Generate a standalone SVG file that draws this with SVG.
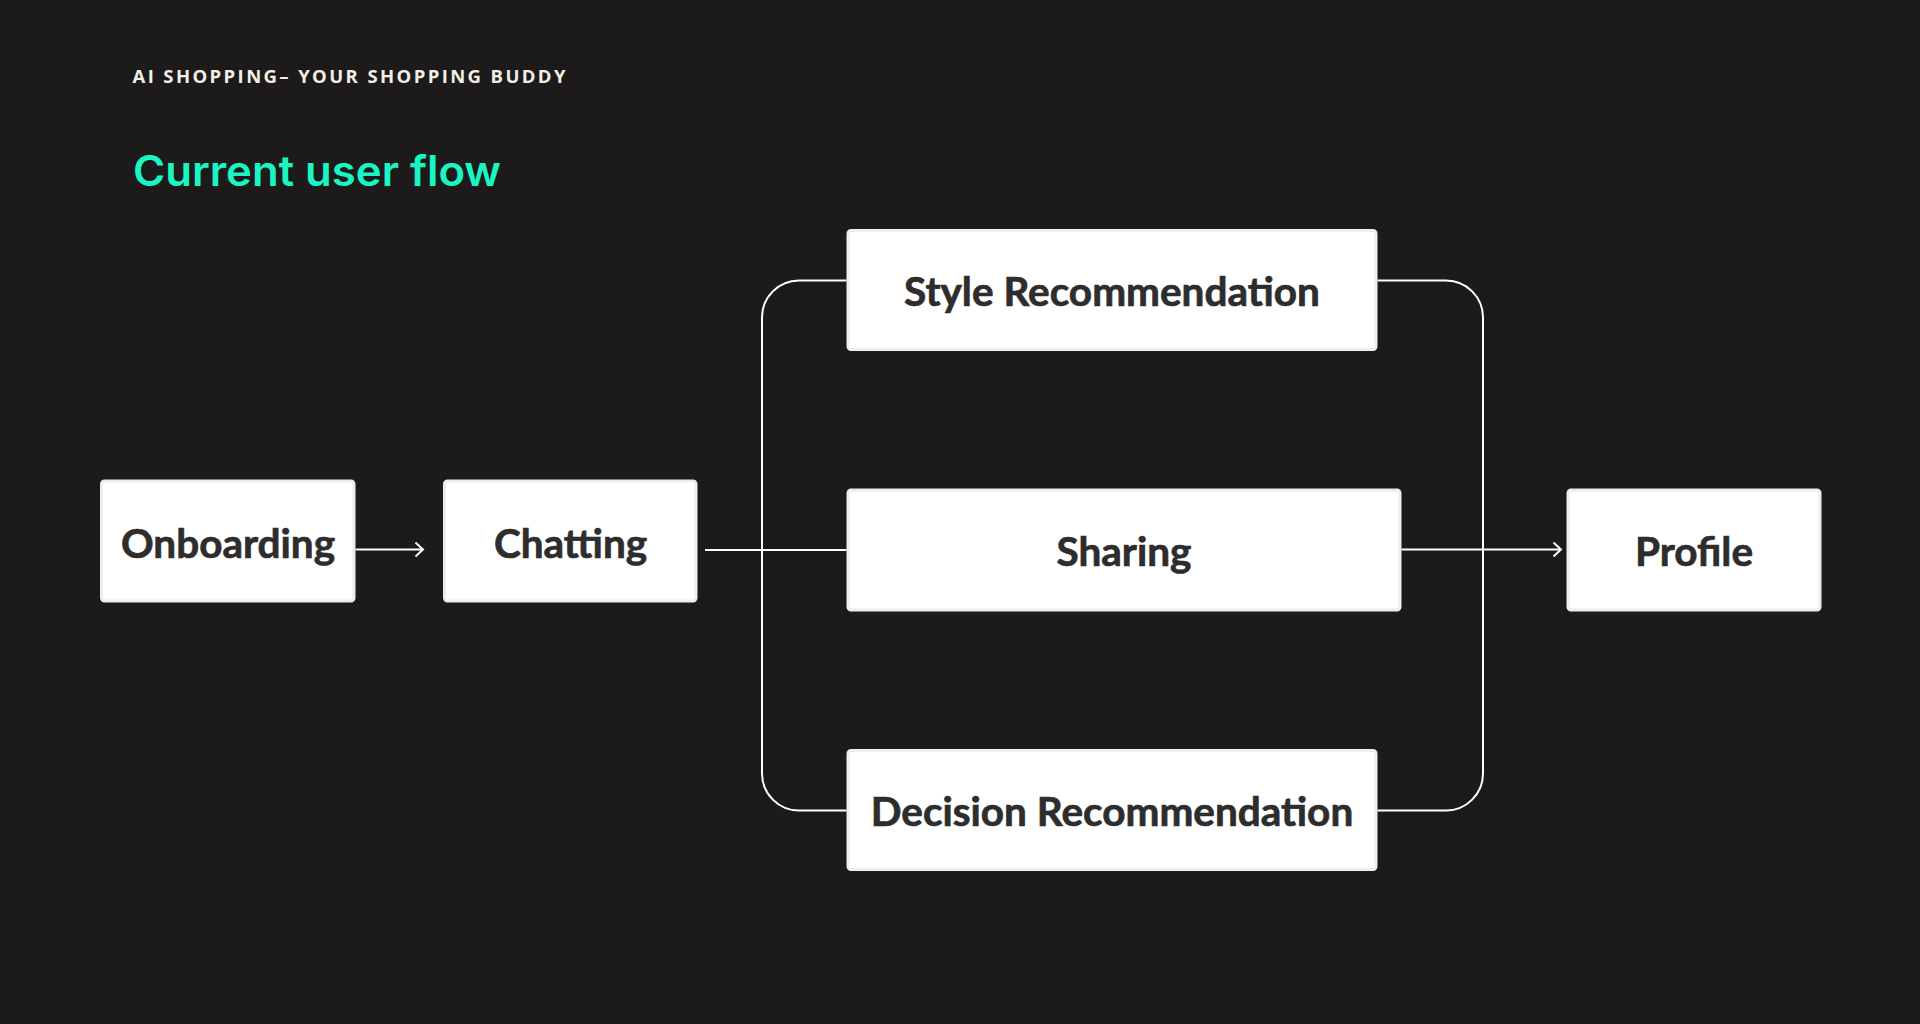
<svg xmlns="http://www.w3.org/2000/svg" width="1920" height="1024" viewBox="0 0 1920 1024">
  <defs>
    <style>
      .box { fill: #ffffff; stroke: #eeeeee; stroke-width: 3; }
      .label { font-family: Lato, "Liberation Sans", sans-serif; font-weight: 700; font-size: 40.5px; fill: #2d2d2d; stroke: #2d2d2d; stroke-width: 0.7; text-anchor: middle; }
      .conn { fill: none; stroke: #ffffff; stroke-width: 2; }
    </style>
    <marker id="arr" markerWidth="12" markerHeight="16" refX="9" refY="8" orient="auto" markerUnits="userSpaceOnUse">
      <path d="M1.5,1 L9,8 L1.5,15" fill="none" stroke="#ffffff" stroke-width="2"/>
    </marker>
  </defs>
  <rect x="0" y="0" width="1920" height="1024" fill="#1c1a1b"/>

  <text x="132.5" y="82.5" font-family="'Open Sans', 'Liberation Sans', sans-serif" font-weight="700" font-size="18.5" fill="#f3efe4" textLength="433" lengthAdjust="spacing">AI SHOPPING– YOUR SHOPPING BUDDY</text>
  <text x="133" y="186" font-family="Inter, 'Liberation Sans', sans-serif" font-weight="600" font-size="42" fill="#1af5c4" textLength="368" lengthAdjust="spacingAndGlyphs">Current user flow</text>

  <g id="connectors">
    <line class="conn" x1="355.5" y1="549.5" x2="423" y2="549.5" marker-end="url(#arr)"/>
    <line class="conn" x1="705" y1="550" x2="846.5" y2="550"/>
    <path class="conn" d="M846.5 280.5 H799 A37 37 0 0 0 762 317.5 V773.5 A37 37 0 0 0 799 810.5 H846.5"/>
    <path class="conn" d="M1377.5 280.5 H1446 A37 37 0 0 1 1483 317.5 V773.5 A37 37 0 0 1 1446 810.5 H1377.5"/>
    <line class="conn" x1="1401.5" y1="549.5" x2="1561" y2="549.5" marker-end="url(#arr)"/>
  </g>

  <g id="onboarding">
    <rect class="box" x="101.5" y="481" width="252.5" height="120" rx="3"/>
    <text class="label" x="228" y="557.5">Onboarding</text>
  </g>
  <g id="chatting">
    <rect class="box" x="444.5" y="481" width="251.5" height="120" rx="3"/>
    <text class="label" x="570.5" y="557.5">Chatting</text>
  </g>
  <g id="style-recommendation">
    <rect class="box" x="848" y="230.5" width="528" height="119" rx="3"/>
    <text class="label" x="1112" y="306">Style Recommendation</text>
  </g>
  <g id="sharing">
    <rect class="box" x="848" y="490" width="552" height="120" rx="3"/>
    <text class="label" x="1124" y="566">Sharing</text>
  </g>
  <g id="decision-recommendation">
    <rect class="box" x="848" y="750.5" width="528" height="119" rx="3"/>
    <text class="label" x="1112" y="826">Decision Recommendation</text>
  </g>
  <g id="profile">
    <rect class="box" x="1568" y="490" width="252" height="120" rx="3"/>
    <text class="label" x="1694" y="566">Profile</text>
  </g>
</svg>
